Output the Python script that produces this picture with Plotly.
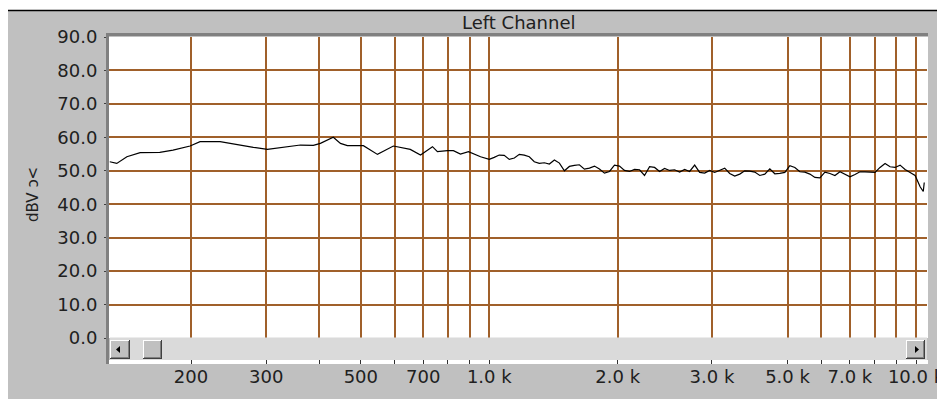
import plotly.graph_objects as go

# ---------------- data ----------------
freq_hz = [129, 134, 141.5, 152, 169, 181.5, 199, 210, 234, 251, 280, 302, 336, 361, 387, 402,
           431, 448, 465, 507, 547, 596, 653, 690, 736, 756, 798, 824, 856, 894, 954,
           1000, 1027, 1055, 1084, 1114, 1145, 1176, 1208, 1241, 1275, 1310, 1346, 1383, 1421,
           1460, 1500, 1541, 1583, 1626, 1671, 1717, 1764, 1812, 1862, 1913, 1965, 2019, 2074,
           2131, 2190, 2250, 2311, 2375, 2440, 2507, 2575, 2646, 2718, 2793, 2870, 2948, 3029,
           3112, 3197, 3285, 3375, 3467, 3562, 3660, 3760, 3863, 3969, 4078, 4190, 4304, 4422,
           4544, 4668, 4796, 4928, 5063, 5201, 5344, 5490, 5641, 5796, 5954, 6118, 6285, 6457,
           6634, 6816, 7003, 7195, 7392, 7595, 7803, 8017, 8236, 8462, 8694, 8932, 9177, 9428,
           9687, 9952, 10225, 10400, 10455]

level_dbv = [52.7, 52.2, 54.2, 55.4, 55.5, 56.2, 57.4, 58.7, 58.7, 58.0, 57.0, 56.4, 57.2, 57.7,
             57.6, 58.2, 60.0, 58.2, 57.5, 57.5, 54.9, 57.4, 56.4, 54.7, 57.2, 55.7, 56.0, 56.0,
             55.0, 55.7, 54.2,
             53.4, 54.0, 54.7, 54.6, 53.4, 53.8, 54.9, 54.7, 54.2, 52.7,
             52.2, 52.4, 52.0, 53.2, 52.3, 50.0, 51.3, 51.6, 51.8, 50.5,
             50.8, 51.4, 50.5, 49.3, 49.8, 51.7, 51.4, 50.1, 49.8, 50.4,
             50.3, 48.6, 51.2, 51.0, 49.8, 50.7, 50.1, 50.3, 49.6, 50.4,
             49.8, 51.7, 49.5, 49.3, 50.1, 49.5, 50.2, 50.8, 49.2, 48.4,
             49.0, 50.0, 49.9, 49.6, 48.6, 49.0, 50.6, 49.1, 49.2, 49.5,
             51.5, 51.0, 49.7, 49.6, 49.0, 48.0, 47.9, 49.6, 49.2, 48.6,
             49.7, 48.9, 48.2, 48.9, 49.7, 49.7, 49.7, 49.5, 51.0, 52.2,
             51.2, 51.0, 51.7, 50.4, 49.5, 48.6, 45.2, 43.8, 46.5]

# gridline positions as drawn in the reference (the "3.0 k" line sits where the picture puts it)
grid_hz = [200, 300, 400, 500, 600, 700, 800, 900, 1000, 2000, 3326, 5000, 6000, 7000, 8000, 9000, 10000]
label_hz = [200, 300, 500, 700, 1000, 2000, 3326, 5000, 7000, 10000]
label_text = ["200", "300", "500", "700", "1.0 k", "2.0 k", "3.0 k", "5.0 k", "7.0 k", "10.0 k"]
y_ticks = [0, 10, 20, 30, 40, 50, 60, 70, 80, 90]
y_text = ["0.0", "10.0", "20.0", "30.0", "40.0", "50.0", "60.0", "70.0", "80.0", "90.0"]

title_text = "Left Channel"
y_title = "dBV ɔ<"

# ---------------- layout geometry (screen pixels; page body adds an 8px offset) ----------------
OFF = 8
W, H = 945 - OFF, 399 - OFF
L, R = 109, 927                 # plot left / right (screen)
T, BP, BPAPER = 37, 338, 364    # plot top, plot bottom, paper bottom (screen)
XR = [2.10886, 4.02578]

GRAY = "#c0c0c0"
DARK = "#808080"
GRID = "#a0602a"
FONT = "DejaVu Sans"


def px(x):
    return (x - L) / (R - L)


def py(y):
    return (BPAPER - y) / (BPAPER - T)


def rect(x0, y0, x1, y1, fill, layer="below"):
    return dict(type="rect", xref="paper", yref="paper", x0=px(x0), x1=px(x1), y0=py(y1), y1=py(y0),
                fillcolor=fill, layer=layer, line=dict(width=0))


def hline(x0, x1, y, color, w=1, layer="above"):
    return dict(type="line", xref="paper", yref="paper", x0=px(x0), x1=px(x1), y0=py(y), y1=py(y),
                line=dict(color=color, width=w), layer=layer)


def vline(x, y0, y1, color, w=1, layer="above"):
    return dict(type="line", xref="paper", yref="paper", x0=px(x), x1=px(x), y0=py(y0), y1=py(y1),
                line=dict(color=color, width=w), layer=layer)


def button(x0, y0, x1, y1):
    return [rect(x0, y0, x1, y1, GRAY, layer="above"),
            hline(x0, x1, y0 + 0.5, "#ffffff"),
            vline(x0 + 0.5, y0, y1, "#ffffff"),
            hline(x0, x1, y1 - 0.5, "#404040"),
            vline(x1 - 0.5, y0, y1, "#404040"),
            hline(x0 + 1, x1 - 1, y1 - 1.5, DARK),
            vline(x1 - 1.5, y0 + 1, y1 - 1, DARK)]


def tri(points):
    path = "M " + " L ".join(f"{px(a)},{py(b)}" for a, b in points) + " Z"
    return dict(type="path", xref="paper", yref="paper", path=path, fillcolor="#000000",
                line=dict(width=0), layer="above")


shapes = [
    rect(8, 11, 946, 400, GRAY),             # window panel
    hline(8, 946, 10.5, "#000000", 1.5, layer="below"),
    rect(109, 37, 928, 338, "#ffffff"),      # plot face
    rect(109, 360, 928, 364, "#ffffff"),     # tick strip under the scrollbar
    rect(110, 337.5, 927, 360, "#dadada", layer="above"),   # scrollbar track
]
shapes += button(110, 340, 130, 359)
shapes += button(143, 340, 162, 359)
shapes += button(906, 340, 925, 359)
shapes += [
    tri([(116, 349.5), (120, 346), (120, 353)]),
    tri([(919, 349.5), (915, 346), (915, 353)]),
    hline(106, 928, 34.5, DARK, 3),
    vline(107.5, 33, 364, DARK, 3),
]

ticktext2 = [label_text[label_hz.index(v)] if v in label_hz else "" for v in grid_hz]

fig = go.Figure()
fig.add_trace(go.Scatter(x=freq_hz, y=level_dbv, mode="lines",
                         line=dict(color="#000000", width=1.2), showlegend=False,
                         hoverinfo="x+y"))
fig.add_trace(go.Scatter(x=[grid_hz[0]], y=[0], xaxis="x2", mode="markers",
                         marker=dict(opacity=0), showlegend=False, hoverinfo="skip"))

fig.update_layout(
    template="none",
    width=W, height=H,
    margin=dict(l=L - OFF, r=(945 - OFF) - (R - OFF), t=T - OFF, b=(399 - OFF) - (BPAPER - OFF),
                pad=0, autoexpand=False),
    paper_bgcolor="#ffffff",
    plot_bgcolor="rgba(0,0,0,0)",
    font=dict(family=FONT, size=18, color="#202020"),
    shapes=shapes,
    xaxis=dict(type="log", range=XR, tickvals=grid_hz, showticklabels=False, ticks="",
               showgrid=True, gridcolor=GRID, gridwidth=1.6, zeroline=False, showline=False,
               anchor="y", automargin=False),
    xaxis2=dict(type="log", range=XR, overlaying="x", anchor="free", position=0, side="bottom",
                tickvals=grid_hz, ticktext=ticktext2, ticks="inside", ticklen=4,
                tickcolor="#303030", tickwidth=1, showgrid=False, zeroline=False, showline=False,
                automargin=False, tickfont=dict(family=FONT, size=18, color="#202020")),
    yaxis=dict(domain=[(BPAPER - BP) / (BPAPER - T), 1], range=[0, 90], tickvals=y_ticks,
               ticktext=y_text, ticks="outside", ticklen=4, tickcolor="#404040",
               ticklabelstandoff=3, automargin=False,
               showgrid=True, gridcolor=GRID, gridwidth=1.6, zeroline=False, showline=False,
               tickfont=dict(family=FONT, size=18, color="#202020")),
    annotations=[
        dict(text=title_text, xref="paper", yref="paper", x=px(518), y=py(23), showarrow=False,
             font=dict(family=FONT, size=18, color="#202020"), xanchor="center", yanchor="middle"),
        dict(text=y_title, xref="paper", yref="paper", x=px(33), y=py(195), showarrow=False,
             textangle=-90, font=dict(family=FONT, size=15, color="#202020"),
             xanchor="center", yanchor="middle"),
    ],
)

fig.write_html("out.html")
